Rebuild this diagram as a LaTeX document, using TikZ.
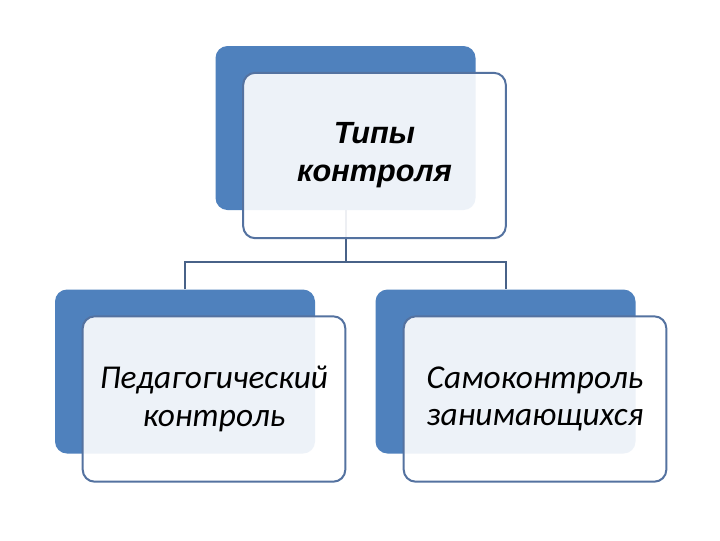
\documentclass[tikz,border=0pt]{standalone}
\usepackage{fontspec}
\setmainfont{Carlito}
\newfontfamily\headfont{Liberation Sans}
\usetikzlibrary{positioning}

\definecolor{accent}{RGB}{79,129,189}
\definecolor{edge}{RGB}{84,114,160}
\definecolor{link}{RGB}{72,98,136}

\tikzset{
  backbox/.style={fill=accent, rounded corners=9pt, inner sep=0pt,
    minimum width=195pt, minimum height=123pt},
  frontbox/.style={draw=edge, line width=1.5pt, fill=white, fill opacity=0.9,
    text opacity=1, rounded corners=9pt, inner sep=0pt, align=center,
    minimum width=197pt, minimum height=124pt},
  linkline/.style={draw=link, line width=1.5pt}
}

\begin{document}
\begin{tikzpicture}[x=0.75pt, y=-0.75pt]
    % page frame
    \fill[white] (0,0) rectangle (720,540);

    % coloured boxes behind
    \node[backbox] (topback) at (345.5,128) {};
    \node[backbox] (leftback) at (185,371.5) {};
    \node[backbox] (rightback) at (505.5,371.5) {};

    % tree lines
    \coordinate (split) at (345.5,262);
    \draw[linkline] (topback.south) -- (split);
    \draw[linkline] (leftback.north) |- (split) -| (rightback.north);

    % boxes in front with the texts
    \node[frontbox, font=\headfont\bfseries\itshape\fontsize{23}{28.5}\selectfont]
        (top) at (374.5,155.5) {Типы\\контроля};
    \node[frontbox, font=\itshape\fontsize{25}{28}\selectfont]
        (left) at (214,399) {Педагогический\\контроль};
    \node[frontbox, font=\itshape\fontsize{25}{28}\selectfont]
        (right) at (535,399) {Самоконтроль\\занимающихся};
\end{tikzpicture}
\end{document}
